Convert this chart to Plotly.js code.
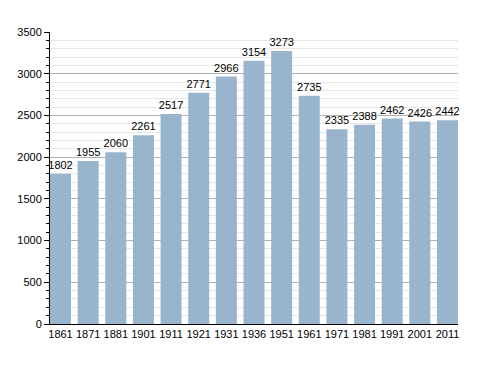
<!DOCTYPE html>
<html><head><meta charset="utf-8">
<script src="https://cdn.plot.ly/plotly-3.0.1.min.js"></script>
<style>html,body{margin:0;padding:0;background:#fff;}#c{width:488px;height:373px;}</style>
</head><body><div id="c"></div>
<script>
const years = ["1861","1871","1881","1901","1911","1921","1931","1936","1951","1961","1971","1981","1991","2001","2011"];
const population = [1802,1955,2060,2261,2517,2771,2966,3154,3273,2735,2335,2388,2462,2426,2442];
const yTicks = [0,500,1000,1500,2000,2500,3000,3500];

Plotly.newPlot('c', [{
  type: 'bar',
  x: years,
  y: population,
  text: population.map(String),
  textposition: 'outside',
  constraintext: 'none',
  cliponaxis: false,
  textfont: {family: 'Liberation Sans, Arial, sans-serif', size: 11, color: '#000'},
  marker: {color: '#99b4cd'},
  hoverinfo: 'none'
}], {
  width: 488, height: 373,
  margin: {l: 50, r: 30, t: 32, b: 49},
  paper_bgcolor: '#fff', plot_bgcolor: '#fff',
  bargap: 0.24,
  showlegend: false,
  font: {family: 'Liberation Sans, Arial, sans-serif', size: 11, color: '#000'},
  xaxis: {
    type: 'category',
    range: [-0.38, 14.38],
    showline: true, linecolor: '#000', linewidth: 1,
    ticks: '', showgrid: false,
    tickfont: {size: 11}
  },
  yaxis: {
    range: [0, 3500],
    tickvals: yTicks,
    ticktext: yTicks.map(String),
    showline: true, linecolor: '#000', linewidth: 1,
    ticks: 'outside', ticklen: 5, tickcolor: '#000',
    showgrid: true, gridcolor: '#b0b0b0', gridwidth: 1,
    zeroline: false,
    minor: {dtick: 100, showgrid: true, gridcolor: '#e6e6e6', ticks: 'outside', ticklen: 3, tickcolor: '#000'},
    tickfont: {size: 11}
  }
}, {staticPlot: true, displayModeBar: false});
</script></body></html>
